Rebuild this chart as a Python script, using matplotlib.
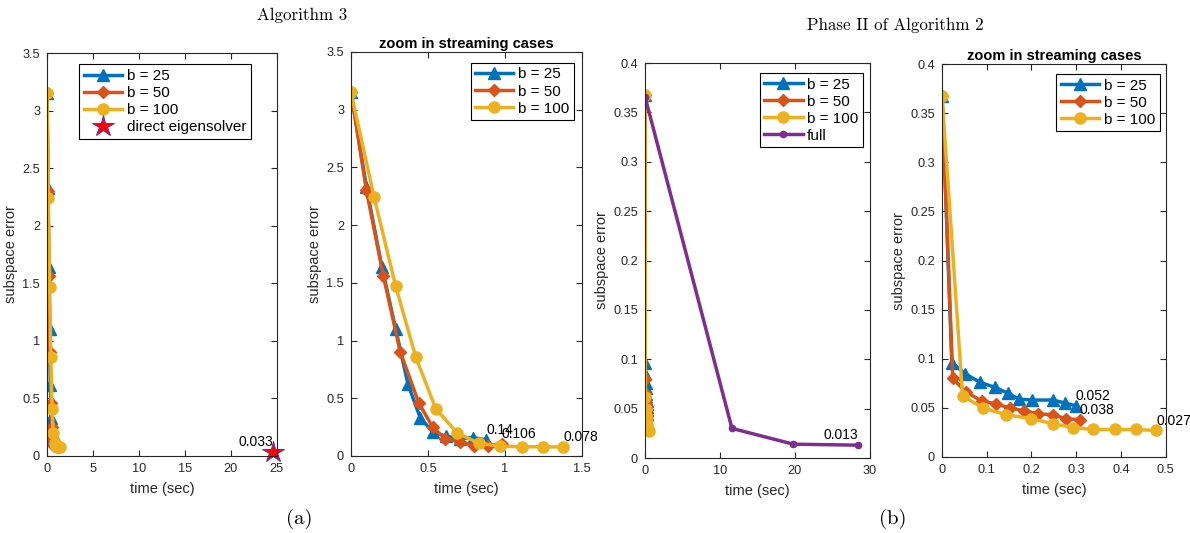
import matplotlib.pyplot as plt
from matplotlib.ticker import FuncFormatter

plt.rcParams['font.family'] = ['Liberation Sans', 'DejaVu Sans']

# --- MATLAB default colours ---
c_blue = (0.0, 0.447, 0.741)
c_orange = (0.85, 0.325, 0.098)
c_yellow = (0.929, 0.694, 0.125)
c_purple = (0.494, 0.184, 0.556)
c_axis = (0.15, 0.15, 0.15)

# --- Algorithm 3 data ---
a3_t25 = [0, 0.10, 0.20, 0.29, 0.37, 0.45, 0.53, 0.62, 0.71, 0.79, 0.88]
a3_e25 = [3.15, 2.33, 1.64, 1.10, 0.62, 0.33, 0.21, 0.17, 0.15, 0.16, 0.14]
a3_t50 = [0, 0.10, 0.21, 0.32, 0.44, 0.53, 0.61, 0.71, 0.80, 0.89, 0.98]
a3_e50 = [3.15, 2.30, 1.56, 0.90, 0.46, 0.25, 0.15, 0.12, 0.09, 0.09, 0.106]
a3_t100 = [0, 0.15, 0.29, 0.42, 0.55, 0.69, 0.83, 0.97, 1.11, 1.25, 1.38]
a3_e100 = [3.15, 2.24, 1.47, 0.86, 0.41, 0.20, 0.11, 0.085, 0.08, 0.08, 0.078]
direct_t = [24.6]
direct_e = [0.033]

# --- Phase II of Algorithm 2 data ---
p2_t25 = [0, 0.022, 0.051, 0.085, 0.118, 0.147, 0.172, 0.202, 0.247, 0.275, 0.299]
p2_e25 = [0.368, 0.096, 0.085, 0.076, 0.071, 0.065, 0.059, 0.058, 0.058, 0.055, 0.052]
p2_t50 = [0, 0.024, 0.054, 0.089, 0.120, 0.152, 0.184, 0.215, 0.247, 0.278, 0.308]
p2_e50 = [0.368, 0.080, 0.066, 0.057, 0.054, 0.050, 0.047, 0.044, 0.043, 0.039, 0.038]
p2_t100 = [0, 0.046, 0.092, 0.143, 0.200, 0.247, 0.293, 0.338, 0.386, 0.433, 0.479]
p2_e100 = [0.368, 0.062, 0.050, 0.043, 0.039, 0.034, 0.030, 0.028, 0.028, 0.028, 0.027]
full_t = [0, 11.6, 19.8, 28.4]
full_e = [0.366, 0.030, 0.014, 0.013]

fmt_g = FuncFormatter(lambda v, p: "%g" % round(v, 4))

fig = plt.figure(figsize=(11.9, 5.33), dpi=100)


def style_axes(ax):
    for s in ax.spines.values():
        s.set_color(c_axis)
        s.set_linewidth(0.8)
    ax.tick_params(direction="in", top=True, right=True, labelsize=9.2,
                   colors=c_axis, length=4, pad=5)
    ax.yaxis.set_major_formatter(fmt_g)
    ax.xaxis.set_major_formatter(fmt_g)
    ax.set_xlabel("time (sec)", fontsize=10.5, color=c_axis, labelpad=5)
    ax.set_ylabel("subspace error", fontsize=10.5, color=c_axis, labelpad=3)


def three_lines(ax, t25, e25, t50, e50, t100, e100):
    ax.plot(t25, e25, "-^", color=c_blue, lw=2.5, ms=9, label="b = 25")
    ax.plot(t50, e50, "-D", color=c_orange, lw=2.5, ms=6.5, label="b = 50")
    ax.plot(t100, e100, "-o", color=c_yellow, lw=2.5, ms=8, label="b = 100")


def end_label(ax, t, e, ha="left"):
    ax.annotate("%g" % e[-1], (t[-1], e[-1]), xytext=(0, 7),
                textcoords="offset points", ha=ha, va="center", fontsize=10)


def legend(ax, anchor, loc):
    leg = ax.legend(loc=loc, bbox_to_anchor=anchor, fontsize=11,
                    fancybox=False, framealpha=1, edgecolor="black",
                    handlelength=2.5, borderpad=0.3, labelspacing=0.2,
                    handletextpad=0.3, borderaxespad=0)
    leg.get_frame().set_linewidth(0.8)


# --- panel 1 ---
ax1 = fig.add_axes([0.0395, 0.1445, 0.193, 0.756])
three_lines(ax1, a3_t25, a3_e25, a3_t50, a3_e50, a3_t100, a3_e100)
ax1.plot(direct_t, direct_e, "*", ms=16, mfc="red", mec=c_purple, mew=0.8,
         clip_on=False, label="direct eigensolver")
end_label(ax1, direct_t, direct_e, ha="right")
ax1.set_xlim(0, 25)
ax1.set_ylim(0, 3.5)
ax1.set_xticks([0, 5, 10, 15, 20, 25])
ax1.set_yticks([0, 0.5, 1, 1.5, 2, 2.5, 3, 3.5])
style_axes(ax1)
legend(ax1, (0.14, 0.972), "upper left")

# --- panel 2 ---
ax2 = fig.add_axes([0.295, 0.1445, 0.194, 0.758])
three_lines(ax2, a3_t25, a3_e25, a3_t50, a3_e50, a3_t100, a3_e100)
end_label(ax2, a3_t25, a3_e25)
end_label(ax2, a3_t50, a3_e50)
end_label(ax2, a3_t100, a3_e100)
ax2.set_xlim(0, 1.5)
ax2.set_ylim(0, 3.5)
ax2.set_xticks([0, 0.5, 1, 1.5])
ax2.set_yticks([0, 0.5, 1, 1.5, 2, 2.5, 3, 3.5])
style_axes(ax2)
ax2.set_title("zoom in streaming cases", fontsize=10.5, fontweight="bold", pad=3)
legend(ax2, (0.965, 0.973), "upper right")

# --- panel 3 ---
ax3 = fig.add_axes([0.542, 0.1407, 0.189, 0.741])
three_lines(ax3, p2_t25, p2_e25, p2_t50, p2_e50, p2_t100, p2_e100)
ax3.plot(full_t, full_e, "-o", color=c_purple, lw=2.5, ms=4.5, label="full")
end_label(ax3, full_t, full_e, ha="right")
ax3.set_xlim(0, 30)
ax3.set_ylim(0, 0.4)
ax3.set_xticks([0, 10, 20, 30])
ax3.set_yticks([0, 0.05, 0.1, 0.15, 0.2, 0.25, 0.3, 0.35, 0.4])
style_axes(ax3)
legend(ax3, (0.969, 0.975), "upper right")

# --- panel 4 ---
ax4 = fig.add_axes([0.7916, 0.1426, 0.188, 0.737])
three_lines(ax4, p2_t25, p2_e25, p2_t50, p2_e50, p2_t100, p2_e100)
end_label(ax4, p2_t25, p2_e25)
end_label(ax4, p2_t50, p2_e50)
end_label(ax4, p2_t100, p2_e100)
ax4.set_xlim(0, 0.5)
ax4.set_ylim(0, 0.4)
ax4.set_xticks([0, 0.1, 0.2, 0.3, 0.4, 0.5])
ax4.set_yticks([0, 0.05, 0.1, 0.15, 0.2, 0.25, 0.3, 0.35, 0.4])
style_axes(ax4)
ax4.set_title("zoom in streaming cases", fontsize=10.5, fontweight="bold", pad=3)
legend(ax4, (0.973, 0.975), "upper right")

# --- figure captions ---
fig.text(302 / 1190, 1 - 15 / 533, "Algorithm 3", family="cmr10",
         fontsize=12.2, ha="center", va="center")
fig.text(895 / 1190, 1 - 25 / 533, "Phase II of Algorithm 2", family="cmr10",
         fontsize=12.2, ha="center", va="center")
fig.text(299 / 1190, 1 - 519 / 533, "(a)", family="cmr10",
         fontsize=15, ha="center", va="center")
fig.text(893 / 1190, 1 - 519 / 533, "(b)", family="cmr10",
         fontsize=15, ha="center", va="center")

fig.savefig("out.png", dpi=100)
